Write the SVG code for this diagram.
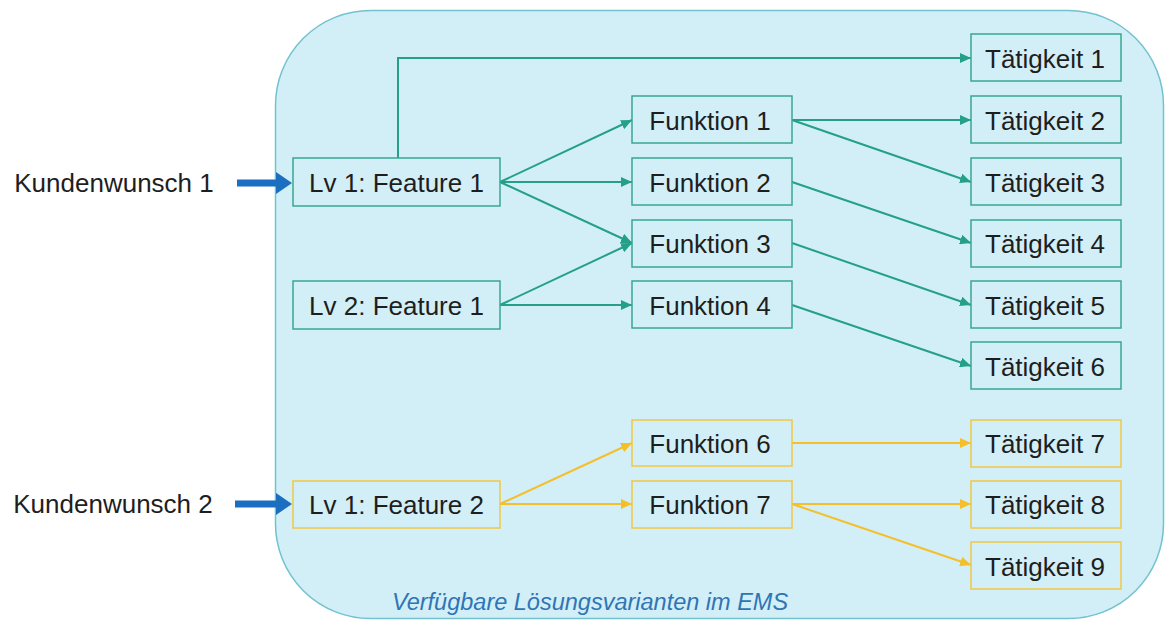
<svg xmlns="http://www.w3.org/2000/svg" width="1165" height="621" viewBox="0 0 1165 621">
<style>
.t{font-family:"Liberation Sans",Arial,sans-serif;font-size:26px;fill:#1e1e1e;text-anchor:middle;dominant-baseline:central}
.g rect{fill:none;stroke:#3aa893;stroke-width:1.5}
.y rect{fill:none;stroke:#f2c744;stroke-width:1.5}
.cg{fill:none;stroke:#24a08a;stroke-width:2;marker-end:url(#ag)}
.cy{fill:none;stroke:#f5bf2a;stroke-width:2;marker-end:url(#ay)}
.blue{fill:#1a6fc0}
</style>
<defs>
<marker id="ag" markerUnits="userSpaceOnUse" markerWidth="12" markerHeight="10" refX="11" refY="5" orient="auto"><path d="M0,0 L11,5 L0,10 z" fill="#24a08a"/></marker>
<marker id="ay" markerUnits="userSpaceOnUse" markerWidth="12" markerHeight="10" refX="11" refY="5" orient="auto"><path d="M0,0 L11,5 L0,10 z" fill="#f5bf2a"/></marker>
</defs>
<rect width="1165" height="621" fill="#ffffff"/>
<g id="container">
<rect x="275.5" y="10.5" width="888" height="608" rx="95" ry="95" fill="#d2eef7" stroke="#72c2d0" stroke-width="1.5"/>
<text x="590" y="610" style="font-family:'Liberation Sans',Arial,sans-serif;font-size:23.5px;font-style:italic;fill:#2e75b6;text-anchor:middle">Verfügbare Lösungsvarianten im EMS</text>
</g>
<g id="kw1"><text class="t" x="114" y="183">Kundenwunsch 1</text></g>
<g id="kw2"><text class="t" x="113" y="504">Kundenwunsch 2</text></g>
<g id="connectors">
<path class="blue" d="M237,179.5 H276 V172 L292,183 L276,194 V186.5 H237 z"/>
<path class="blue" d="M235,500.5 H276 V493 L292,504 L276,515 V507.5 H235 z"/>
<path class="cg" d="M398,158 V58 H971"/>
<path class="cg" d="M500,182 L632,120"/>
<path class="cg" d="M500,182 L632,182"/>
<path class="cg" d="M500,182 L632,243"/>
<path class="cg" d="M500,305 L632,243"/>
<path class="cg" d="M500,305 L632,305"/>
<path class="cg" d="M792,120 L971,120"/>
<path class="cg" d="M792,120 L971,182"/>
<path class="cg" d="M792,182 L971,243"/>
<path class="cg" d="M792,243 L971,305"/>
<path class="cg" d="M792,305 L971,366"/>
<path class="cy" d="M500,504 L632,443"/>
<path class="cy" d="M500,504 L632,504"/>
<path class="cy" d="M792,443 L971,443"/>
<path class="cy" d="M792,504 L971,504"/>
<path class="cy" d="M792,504 L971,565"/>
</g>
<g id="lv1f1" class="g"><rect x="293" y="158" width="207" height="48"/><text class="t" x="396.5" y="183">Lv 1: Feature 1</text></g>
<g id="lv2f1" class="g"><rect x="293" y="281" width="207" height="48"/><text class="t" x="396.5" y="306">Lv 2: Feature 1</text></g>
<g id="lv1f2" class="y"><rect x="293" y="481" width="207" height="47"/><text class="t" x="396.5" y="505">Lv 1: Feature 2</text></g>
<g id="f1" class="g"><rect x="632" y="96" width="160" height="47"/><text class="t" x="710" y="121">Funktion 1</text></g>
<g id="f2" class="g"><rect x="632" y="158" width="160" height="47"/><text class="t" x="710" y="183">Funktion 2</text></g>
<g id="f3" class="g"><rect x="632" y="220" width="160" height="47"/><text class="t" x="710" y="244">Funktion 3</text></g>
<g id="f4" class="g"><rect x="632" y="281" width="160" height="47"/><text class="t" x="710" y="306">Funktion 4</text></g>
<g id="f6" class="y"><rect x="632" y="420" width="160" height="46"/><text class="t" x="710" y="444">Funktion 6</text></g>
<g id="f7" class="y"><rect x="632" y="481" width="160" height="47"/><text class="t" x="710" y="505">Funktion 7</text></g>
<g id="t1" class="g"><rect x="971" y="34" width="150" height="47"/><text class="t" x="1045" y="59">Tätigkeit 1</text></g>
<g id="t2" class="g"><rect x="971" y="96" width="150" height="47"/><text class="t" x="1045" y="121">Tätigkeit 2</text></g>
<g id="t3" class="g"><rect x="971" y="158" width="150" height="47"/><text class="t" x="1045" y="183">Tätigkeit 3</text></g>
<g id="t4" class="g"><rect x="971" y="220" width="150" height="47"/><text class="t" x="1045" y="244">Tätigkeit 4</text></g>
<g id="t5" class="g"><rect x="971" y="281" width="150" height="47"/><text class="t" x="1045" y="306">Tätigkeit 5</text></g>
<g id="t6" class="g"><rect x="971" y="342" width="150" height="47"/><text class="t" x="1045" y="367">Tätigkeit 6</text></g>
<g id="t7" class="y"><rect x="971" y="420" width="150" height="47"/><text class="t" x="1045" y="444">Tätigkeit 7</text></g>
<g id="t8" class="y"><rect x="971" y="481" width="150" height="47"/><text class="t" x="1045" y="505">Tätigkeit 8</text></g>
<g id="t9" class="y"><rect x="971" y="542" width="150" height="47"/><text class="t" x="1045" y="567">Tätigkeit 9</text></g>
</svg>
